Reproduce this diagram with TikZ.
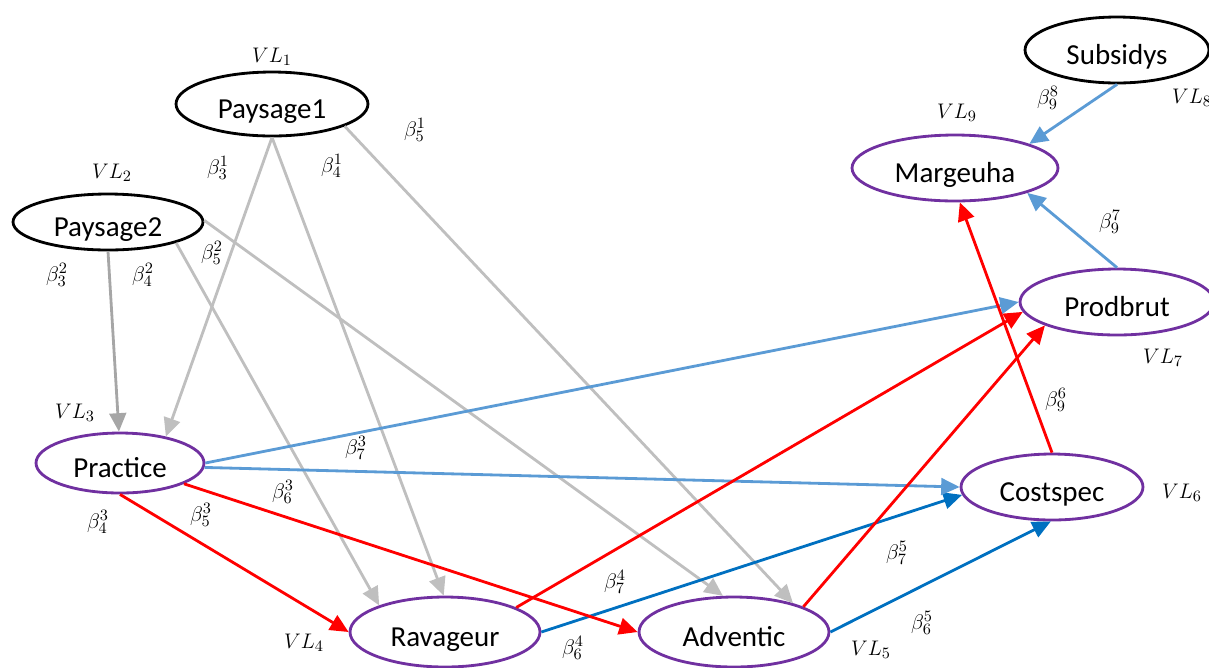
\documentclass[tikz,border=0pt]{standalone}
\usepackage{fontspec}
\setmainfont{Carlito}
\usetikzlibrary{arrows.meta,shapes.geometric}
\definecolor{lvpurple}{HTML}{7030A0}
\definecolor{lvgray}{HTML}{BFBFBF}
\definecolor{lvdgray}{HTML}{A6A6A6}
\definecolor{lvblue}{HTML}{5B9BD5}
\definecolor{lvdblue}{HTML}{0070C0}
\definecolor{lvred}{HTML}{FF0000}

\begin{document}
\begin{tikzpicture}[x=0.02cm,y=-0.02cm,
    latent/.style={ellipse,draw=lvpurple,line width=1.6pt,inner sep=0pt,
      text height=16pt,text depth=0pt,font=\fontsize{16.5}{19}\selectfont},
    exo/.style={latent,draw=black},
    path/.style={line width=1.6pt,-{Triangle[length=10.5pt,width=9.5pt]}},
    coef/.style={font=\fontsize{13}{15}\selectfont}]
    \useasboundingbox (0,0) rectangle (1209,667);
    %% Latent variables
    \node[exo,minimum width=3.84cm,minimum height=1.28cm] (pay1) at (272,104) {Paysage1};
    \node[exo,minimum width=3.8cm,minimum height=1.12cm] (pay2) at (108,222) {Paysage2};
    \node[exo,minimum width=3.68cm,minimum height=1.32cm] (subs) at (1117,50) {Subsidys};
    \node[latent,minimum width=4.12cm,minimum height=1.32cm] (marg) at (955,168) {Margeuha};
    \node[latent,minimum width=3.88cm,minimum height=1.32cm] (prod) at (1117,302) {Prodbrut};
    \node[latent,minimum width=3.36cm,minimum height=1.2cm] (prac) at (120,463) {Practice};
    \node[latent,minimum width=3.8cm,minimum height=1.4cm] (rav) at (445,632) {Ravageur};
    \node[latent,minimum width=3.8cm,minimum height=1.4cm] (adv) at (734,632) {Adventic};
    \node[latent,minimum width=3.64cm,minimum height=1.32cm] (cost) at (1052,487) {Costspec};

    %% Landscape effects
    \draw[path,draw=lvgray]
    (pay1.-90) -- (prac.30);
    \draw[path,draw=lvgray]
    (pay1.-90) -- (rav.92);
    \draw[path,draw=lvgray]
    (pay1.-17) -- (adv.26);
    \draw[path,draw=lvdgray]
    (pay2.-90) -- (prac.92);
    \draw[path,draw=lvgray]
    (pay2.-17) -- (rav.158);
    \draw[path,draw=lvgray]
    (pay2.1) -- (adv.107);

    %% Blue effects
    \draw[path,draw=lvdblue]
    (rav.0) -- (cost.185);
    \draw[path,draw=lvdblue]
    (adv.0) -- (cost.-92);
    \draw[path,draw=lvblue]
    (prac.0) -- (prod.180);
    \draw[path,draw=lvblue]
    (prac.-3) -- (cost.180);
    \draw[path,draw=lvblue]
    (subs.-90) -- (marg.18);
    \draw[path,draw=lvblue]
    (prod.90) -- (marg.-19);

    %% Red effects
    \draw[path,draw=lvred]
    (prac.-90) -- (rav.180);
    \draw[path,draw=lvred]
    (prac.-18) -- (adv.180);
    \draw[path,draw=lvred]
    (rav.19) -- (prod.186);
    \draw[path,draw=lvred]
    (adv.20) -- (prod.198);
    \draw[path,draw=lvred]
    (cost.90) -- (marg.-82);

    %% Coefficients
    \foreach \nm/\px/\py/\tx in {
      vla/272/57/VL_1, vlb/112/173/VL_2, vlc/75/413/VL_3,
      vld/304/643/VL_4, vle/871/650/VL_5, vlf/1182/493/VL_6,
      vlg/1163/358/VL_7, vlh/1192/98/VL_8, vli/957/113/VL_9,
      bca/218/168/\beta_3^1, bda/332/166/\beta_4^1, bea/415/130/\beta_5^1,
      beb/212/253/\beta_5^2, bcb/57/275/\beta_3^2, bdb/143/275/\beta_4^2,
      bgc/356/448/\beta_7^3, bfc/283/492/\beta_6^3, bec/201/515/\beta_5^3,
      bdc/98/522/\beta_4^3, bgd/615/582/\beta_7^4, bfd/573/648/\beta_6^4,
      bge/897/553/\beta_7^5, bfe/922/623/\beta_6^5, bif/1056/400/\beta_9^6,
      big/1110/222/\beta_9^7, bih/1048/98/\beta_9^8}
    {
    \node[coef] (\nm) at (\px,\py) {$\tx$};
    }
\end{tikzpicture}
\end{document}
